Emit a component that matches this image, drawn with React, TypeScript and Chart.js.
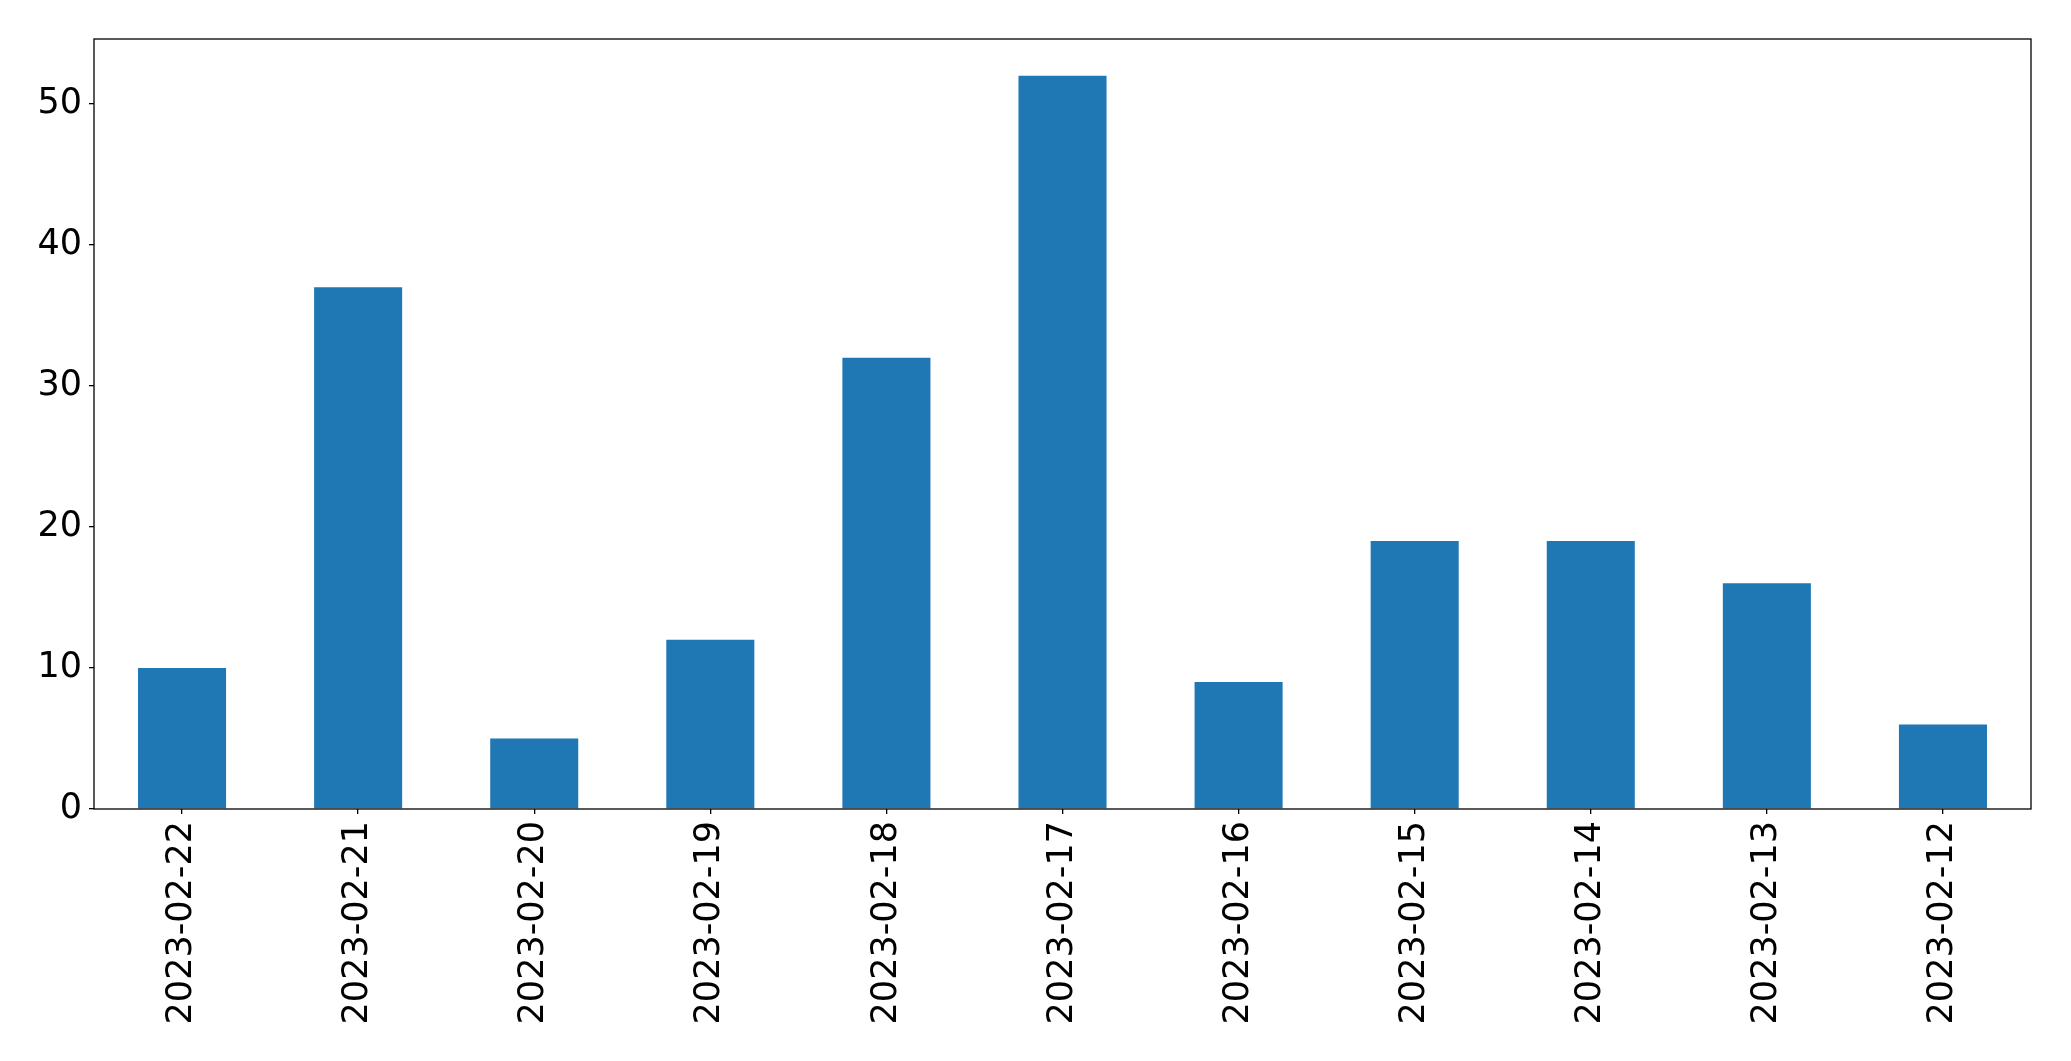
import React, { useEffect, useRef } from "react";
import { Chart, registerables } from "chart.js";

Chart.register(...registerables);

const categories = [
  "2023-02-22", "2023-02-21", "2023-02-20", "2023-02-19", "2023-02-18", "2023-02-17",
  "2023-02-16", "2023-02-15", "2023-02-14", "2023-02-13", "2023-02-12",
];
const counts = [10, 37, 5, 12, 32, 52, 9, 19, 19, 16, 6];
const yTicks = [0, 10, 20, 30, 40, 50];
const yMax = 54.6;

const FONT = { family: "DejaVu Sans", size: 35 };

const boxPlugin = {
  id: "boxPlugin",
  afterDraw(chart: any) {
    const { ctx, chartArea } = chart;
    ctx.save();
    ctx.strokeStyle = "#000";
    ctx.lineWidth = 1.3;
    ctx.strokeRect(chartArea.left, chartArea.top, chartArea.right - chartArea.left, chartArea.bottom - chartArea.top);
    ctx.restore();
  },
};

export default function App() {
  const ref = useRef<HTMLCanvasElement>(null);
  useEffect(() => {
    document.body.style.margin = "0";
    const chart = new Chart(ref.current!, {
      type: "bar",
      data: {
        labels: categories,
        datasets: [
          {
            data: counts,
            backgroundColor: "#1f77b4",
            borderWidth: 0,
            barPercentage: 0.5,
            categoryPercentage: 1,
          },
        ],
      },
      options: {
        responsive: false,
        animation: false,
        devicePixelRatio: 1,
        layout: { padding: { top: 39, right: 40, left: 0, bottom: 0 } },
        plugins: { legend: { display: false }, tooltip: { enabled: false } },
        scales: {
          x: {
            offset: true,
            grid: { display: true, drawOnChartArea: false, drawTicks: true, tickLength: 5, color: "#000", offset: false, lineWidth: 1.3 },
            border: { display: false },
            ticks: { color: "#000", font: FONT, maxRotation: 90, minRotation: 90, padding: 7, autoSkip: false },
            afterFit(scale: any) {
              scale.height = 252;
            },
          },
          y: {
            min: 0,
            max: yMax,
            grid: { display: true, drawOnChartArea: false, drawTicks: true, tickLength: 5, color: "#000", lineWidth: 1.3 },
            border: { display: false },
            ticks: { color: "#000", font: FONT, padding: 7 },
            afterBuildTicks(scale: any) {
              scale.ticks = yTicks.map((v) => ({ value: v }));
            },
            afterFit(scale: any) {
              scale.width = 94;
            },
          },
        },
      },
      plugins: [boxPlugin],
    } as any);
    return () => chart.destroy();
  }, []);
  return <canvas ref={ref} width={2071} height={1061} style={{ display: "block" }} />;
}
